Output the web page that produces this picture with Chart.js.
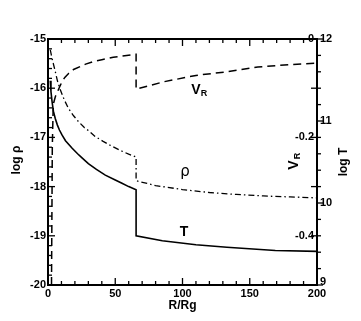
<!DOCTYPE html>
<html>
<head>
<meta charset="utf-8">
<script src="https://cdn.jsdelivr.net/npm/chart.js@4.4.1/dist/chart.umd.min.js"></script>
<style>
  html, body { margin: 0; padding: 0; background: #fff; }
  canvas { display: block; }
</style>
</head>
<body>
<canvas id="chart" width="361" height="321"></canvas>
<script>
// density (left axis, log rho)
const rhoRadius = [1.7, 2.5, 3.5, 5.4, 7, 9, 12, 15, 19, 22.7, 27, 30, 35, 41, 47.5, 55, 60, 65.5, 65.5, 80, 100, 120, 140, 160, 180, 200];
const logRho = [-15.22, -15.33, -15.45, -15.66, -15.85, -16.02, -16.23, -16.40, -16.56, -16.68, -16.80, -16.86, -16.98, -17.08, -17.18, -17.28, -17.34, -17.40, -17.88, -17.98, -18.06, -18.12, -18.16, -18.19, -18.21, -18.23];

// temperature (right axis, log T)
const tempRadius = [1.7, 2.2, 3, 4, 5.4, 7, 8.5, 10.4, 13, 17.8, 22, 25.3, 30, 36, 42.6, 50, 55, 60, 65.5, 65.5, 85, 110, 133, 169, 200];
const logT = [11.49, 11.36, 11.24, 11.12, 11.03, 10.95, 10.89, 10.83, 10.76, 10.67, 10.60, 10.55, 10.48, 10.41, 10.34, 10.28, 10.24, 10.20, 10.16, 9.60, 9.54, 9.49, 9.46, 9.42, 9.41];

// radial velocity (inner right axis, V_R)
const velRadius = [2.6, 3.2, 3.8, 4.2, 5.5, 7.1, 8.7, 10.4, 12.5, 15.3, 19, 24, 28, 33.6, 40, 48.5, 57, 65.5, 65.5, 86, 110, 132, 156, 180, 200];
const velR = [-0.5, -0.22, -0.145, -0.13, -0.117, -0.107, -0.097, -0.087, -0.078, -0.070, -0.062, -0.056, -0.051, -0.046, -0.042, -0.037, -0.034, -0.031, -0.102, -0.087, -0.074, -0.067, -0.057, -0.052, -0.049];

// tick values
const xMajor = [0, 50, 100, 150, 200];
const rhoMajor = [-20, -19, -18, -17, -16, -15];
const tMajor = [9, 10, 11, 12];
const velLabels = [0, -0.2, -0.4];

function pts(xs, ys) {
    return xs.map((x, i) => ({ x: x, y: ys[i] }));
}

const axesPlugin = {
    id: "frameAxes",
    afterDraw(chart) {
        const ctx = chart.ctx;
        const a = chart.chartArea;
        const xs = chart.scales.x, yr = chart.scales.y, yv = chart.scales.yV, yt = chart.scales.yT;
        ctx.save();
        ctx.strokeStyle = "#000";
        ctx.fillStyle = "#000";

        const line = (x1, y1, x2, y2) => {
            ctx.beginPath();
            ctx.moveTo(x1, y1);
            ctx.lineTo(x2, y2);
            ctx.stroke();
        };

        // ticks
        ctx.lineWidth = 1.3;
        for (let v = 0; v <= 200; v += 10) {
            const px = xs.getPixelForValue(v);
            const len = v % 50 === 0 ? 7 : 4;
            line(px, a.bottom, px, a.bottom - len);
            line(px, a.top, px, a.top + len);
        }
        for (let i = 0; i <= 25; i++) {
            const py = yr.getPixelForValue(-20 + i * 0.2);
            const len = i % 5 === 0 ? 7 : 4;
            line(a.left, py, a.left + len, py);
        }
        for (let i = 0; i <= 15; i++) {
            const py = yt.getPixelForValue(9 + i * 0.2);
            const len = i % 5 === 0 ? 6 : 4;
            line(a.right, py, a.right + len, py);
        }
        for (let i = 0; i <= 5; i++) {
            const py = yv.getPixelForValue(-i * 0.1);
            line(a.right, py, a.right - 6, py);
        }

        // frame
        ctx.lineWidth = 2;
        ctx.strokeRect(a.left, a.top, a.right - a.left, a.bottom - a.top);

        // tick labels
        ctx.font = "bold 11px 'Liberation Sans', Arial, sans-serif";
        ctx.textBaseline = "middle";
        ctx.textAlign = "right";
        rhoMajor.forEach(v => ctx.fillText(String(v), a.left - 2, yr.getPixelForValue(v)));
        velLabels.forEach(v => ctx.fillText(v === 0 ? "0" : v.toFixed(1), a.right - 3, yv.getPixelForValue(v)));
        ctx.textAlign = "left";
        tMajor.forEach(v => ctx.fillText(String(v), a.right + 3, yt.getPixelForValue(v) - (v === 9 ? 3 : 0)));
        ctx.textAlign = "center";
        ctx.textBaseline = "top";
        xMajor.forEach(v => ctx.fillText(String(v), xs.getPixelForValue(v), a.bottom + 3));

        // axis titles
        ctx.font = "bold 12px 'Liberation Sans', Arial, sans-serif";
        ctx.fillText("R/Rg", (a.left + a.right) / 2, a.bottom + 15);

        ctx.textBaseline = "middle";
        ctx.save();
        ctx.translate(17, 160);
        ctx.rotate(-Math.PI / 2);
        ctx.fillText("log \u03C1", 0, 0);
        ctx.restore();

        ctx.save();
        ctx.translate(344, 162);
        ctx.rotate(-Math.PI / 2);
        ctx.fillText("log T", 0, 0);
        ctx.restore();

        ctx.save();
        ctx.translate(294, 162);
        ctx.rotate(-Math.PI / 2);
        ctx.font = "bold 14px 'Liberation Sans', Arial, sans-serif";
        ctx.fillText("V", -3, 0);
        ctx.font = "bold 9px 'Liberation Sans', Arial, sans-serif";
        ctx.fillText("R", 6, 4);
        ctx.restore();

        // curve labels
        ctx.textAlign = "center";
        ctx.font = "bold 14px 'Liberation Sans', Arial, sans-serif";
        ctx.fillText("V", 196, 90);
        ctx.font = "bold 9px 'Liberation Sans', Arial, sans-serif";
        ctx.fillText("R", 204, 94);
        ctx.font = "15px 'DejaVu Sans', sans-serif";
        ctx.fillText("\u03C1", 185, 172);
        ctx.font = "bold 14px 'Liberation Sans', Arial, sans-serif";
        ctx.fillText("T", 184, 232);

        ctx.restore();
    }
};

new Chart(document.getElementById("chart"), {
    type: "line",
    data: {
        datasets: [
            {
                label: "rho",
                data: pts(rhoRadius, logRho),
                yAxisID: "y",
                borderColor: "#000",
                borderWidth: 1.3,
                borderDash: [6, 3, 1.5, 3],
                pointRadius: 0,
                tension: 0,
                fill: false
            },
            {
                label: "T",
                data: pts(tempRadius, logT),
                yAxisID: "yT",
                borderColor: "#000",
                borderWidth: 1.6,
                pointRadius: 0,
                tension: 0,
                fill: false
            },
            {
                label: "VR",
                data: pts(velRadius, velR),
                yAxisID: "yV",
                borderColor: "#000",
                borderWidth: 1.5,
                borderDash: [8, 5],
                pointRadius: 0,
                tension: 0,
                fill: false
            }
        ]
    },
    options: {
        responsive: false,
        animation: false,
        layout: { padding: { left: 48, top: 39, right: 44, bottom: 36 } },
        plugins: { legend: { display: false }, tooltip: { enabled: false } },
        scales: {
            x: { type: "linear", min: 0, max: 200, display: false },
            y: { type: "linear", min: -20, max: -15, display: false },
            yT: { type: "linear", min: 9, max: 12, display: false },
            yV: { type: "linear", min: -0.5, max: 0, display: false }
        }
    },
    plugins: [axesPlugin]
});
</script>
</body>
</html>
